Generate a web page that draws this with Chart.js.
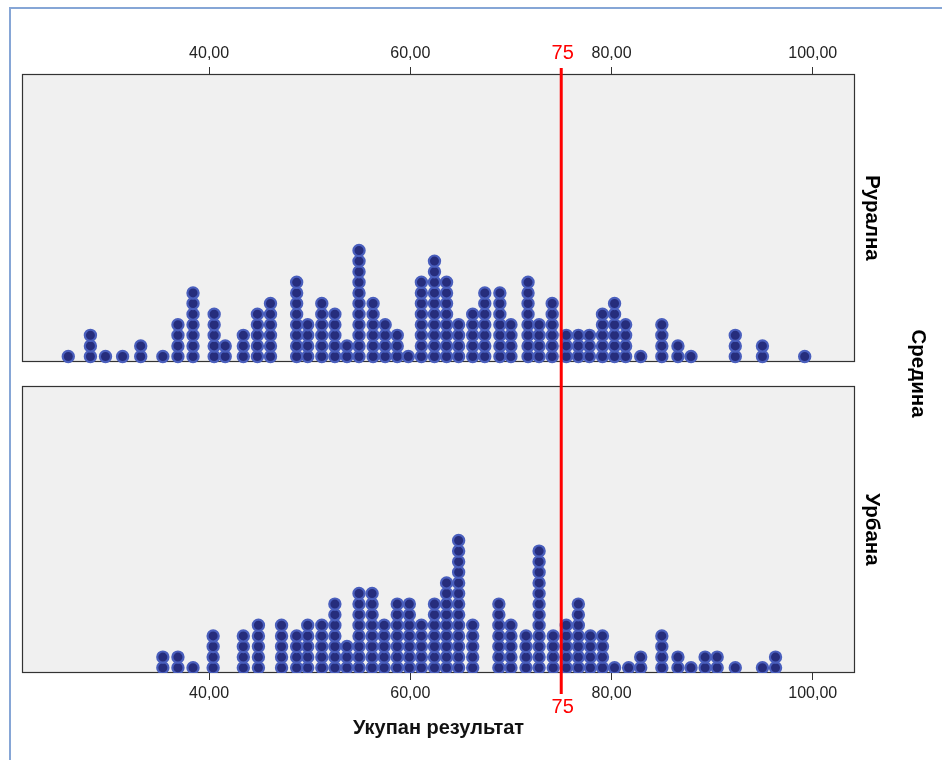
<!DOCTYPE html>
<html><head><meta charset="utf-8">
<script src="https://cdn.jsdelivr.net/npm/chart.js@4/dist/chart.umd.min.js"></script>
<style>
html,body{margin:0;padding:0;background:#fff;}
#wrap{position:relative;width:942px;height:760px;overflow:hidden;}
#frame{position:absolute;left:9px;top:7px;right:-5px;bottom:-5px;border-left:2px solid #86a6d6;border-top:2px solid #86a6d6;}
canvas{position:absolute;left:0;top:0;}
</style></head><body>
<div id="wrap"><div id="frame"></div><canvas id="c" width="942" height="760"></canvas></div>
<script>
// ---- data ----
const ruralScores = [26.0, 28.2, 29.7, 31.4, 33.2, 35.4, 36.9, 38.4, 40.5, 41.6, 43.4, 44.8, 46.1, 48.7, 49.8, 51.2, 52.5, 53.7, 54.9, 56.3, 57.5, 58.7, 59.8, 61.1, 62.4, 63.6, 64.8, 66.2, 67.4, 68.9, 70.0, 71.7, 72.8, 74.1, 75.5, 76.7, 77.8, 79.1, 80.3, 81.4, 82.9, 85.0, 86.6, 87.9, 92.3, 95.0, 99.2];
const ruralCounts = [1, 3, 1, 1, 2, 1, 4, 7, 5, 2, 3, 5, 6, 8, 4, 6, 5, 2, 11, 6, 4, 3, 1, 8, 10, 8, 4, 5, 7, 7, 4, 8, 4, 6, 3, 3, 3, 5, 6, 4, 1, 4, 2, 1, 3, 2, 1];
const urbanScores = [35.4, 36.9, 38.4, 40.4, 43.4, 44.9, 47.2, 48.7, 49.8, 51.2, 52.5, 53.7, 54.9, 56.2, 57.4, 58.7, 59.9, 61.1, 62.4, 63.6, 64.8, 66.2, 68.8, 70.0, 71.5, 72.8, 74.2, 75.5, 76.7, 77.9, 79.1, 80.3, 81.7, 82.9, 85.0, 86.6, 87.9, 89.3, 90.5, 92.3, 95.0, 96.3];
const urbanCounts = [2, 2, 1, 4, 4, 5, 5, 4, 5, 5, 7, 3, 8, 8, 5, 7, 7, 5, 7, 9, 13, 5, 7, 5, 4, 12, 4, 5, 7, 4, 4, 1, 1, 2, 4, 2, 1, 2, 2, 1, 1, 2];
const tickValues = [40, 60, 80, 100];
const tickLabels = ['40,00', '60,00', '80,00', '100,00'];
const referenceValue = 75;
const referenceLabel = '75';
const panelNames = ['Рурална', 'Урбана'];
const facetTitle = 'Средина';
const axisTitle = 'Укупан результат';

// ---- layout of the two facets in "dot level" units of the hidden y scale ----
const Y_MAX = 56.5;
const panels = [
  {name: panelNames[0], base: 29.35, top: 56.5},
  {name: panelNames[1], base: 0, top: 27.08}
];

function stackDots(scores, counts, base) {
  const pts = [];
  scores.forEach((s, i) => {
    for (let k = 0; k < counts[i]; k++) pts.push({x: s, y: base + 0.5 + k});
  });
  return pts;
}

const FONT = '"Liberation Sans", Arial, sans-serif';

const facetPlugin = {
  id: 'facets',
  beforeDatasetsDraw(chart) {
    const {ctx, chartArea: a, scales: {y}} = chart;
    ctx.save();
    panels.forEach(p => {
      const t = Math.round(y.getPixelForValue(p.top));
      const b = Math.round(y.getPixelForValue(p.base));
      ctx.fillStyle = '#f0f0f0';
      ctx.fillRect(a.left, t, a.right - a.left, b - t);
      ctx.strokeStyle = '#333333';
      ctx.lineWidth = 1.2;
      ctx.strokeRect(a.left + 0.5, t + 0.5, a.right - a.left - 1, b - t - 1);
    });
    ctx.restore();
  },
  afterDraw(chart) {
    const {ctx, chartArea: a, scales: {x, y}} = chart;
    const xp = x.getPixelForValue(referenceValue);
    ctx.save();
    ctx.strokeStyle = '#ff0000';
    ctx.lineWidth = 3;
    ctx.beginPath();
    ctx.moveTo(xp, a.top - 6);
    ctx.lineTo(xp, a.bottom + 21);
    ctx.stroke();
    ctx.fillStyle = '#ff0000';
    ctx.font = '20px ' + FONT;
    ctx.textAlign = 'center';
    ctx.textBaseline = 'middle';
    ctx.fillText(referenceLabel, xp + 1.5, a.top - 21);
    ctx.fillText(referenceLabel, xp + 1.5, a.bottom + 34);
    // facet labels
    ctx.fillStyle = '#000';
    ctx.font = 'bold 20.5px ' + FONT;
    panels.forEach(p => {
      const cy = (y.getPixelForValue(p.top) + y.getPixelForValue(p.base)) / 2;
      ctx.save();
      ctx.translate(a.right + 17, cy);
      ctx.rotate(Math.PI / 2);
      ctx.fillText(p.name, 0, 0);
      ctx.restore();
    });
    ctx.save();
    ctx.translate(a.right + 63, (a.top + a.bottom) / 2);
    ctx.rotate(Math.PI / 2);
    ctx.fillText(facetTitle, 0, 0);
    ctx.restore();
    ctx.restore();
  }
};

const dotStyle = {
  backgroundColor: '#262d7c',
  borderColor: '#4a5fbd',
  borderWidth: 2.2,
  pointRadius: 5.6,
  pointHoverRadius: 5.6
};

const xAxisCommon = {
  type: 'linear',
  min: 21.4,
  max: 104.2,
  afterBuildTicks: s => { s.ticks = tickValues.map(v => ({value: v})); },
  ticks: {
    callback: v => tickLabels[tickValues.indexOf(v)],
    color: '#222',
    font: {family: FONT, size: 16},
    padding: 4,
    maxRotation: 0,
    autoSkip: false
  },
  grid: {drawOnChartArea: false, drawTicks: true, tickLength: 7, color: '#333', tickColor: '#333'},
  border: {display: false}
};

new Chart(document.getElementById('c'), {
  type: 'scatter',
  data: {
    datasets: [
      Object.assign({label: panelNames[0], data: stackDots(ruralScores, ruralCounts, panels[0].base)}, dotStyle),
      Object.assign({label: panelNames[1], data: stackDots(urbanScores, urbanCounts, panels[1].base)}, dotStyle)
    ]
  },
  options: {
    responsive: false,
    animation: false,
    events: [],
    layout: {padding: {left: 22, right: 87, top: 0, bottom: 0}},
    plugins: {legend: {display: false}, tooltip: {enabled: false}},
    scales: {
      x: Object.assign({}, xAxisCommon, {
        position: 'bottom',
        afterFit: s => { s.height = 87; },
        title: {display: true, text: axisTitle, color: '#111', font: {family: FONT, size: 20, weight: 'bold'}, padding: {top: 0, bottom: 20}}
      }),
      x2: Object.assign({}, xAxisCommon, {
        position: 'top',
        afterFit: s => { s.height = 74; }
      }),
      y: {type: 'linear', display: false, min: 0, max: Y_MAX}
    }
  },
  plugins: [facetPlugin]
});
</script>
</body></html>
